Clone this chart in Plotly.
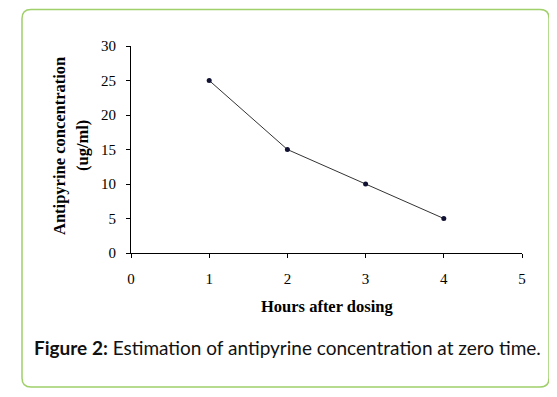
import plotly.graph_objects as go

hours = [1, 2, 3, 4]
concentration = [25, 15, 10, 5]
x_ticks = [0, 1, 2, 3, 4, 5]
y_ticks = [0, 5, 10, 15, 20, 25, 30]

OFF = 8  # default page body margin
W, H = 557, 397
# target pixel positions in window coordinates
AX_L, AX_R, AX_T, AX_B = 131, 522, 46, 253
L, T = AX_L - OFF, AX_T - OFF
R = W - (AX_R - OFF)
B = H - (AX_B - OFF)
pw, ph = AX_R - AX_L, AX_B - AX_T

def px(x):
    return (x - AX_L) / pw

def py(y):
    return (AX_B - y) / ph

fig = go.Figure()
# invisible copy that carries the overlay axes (visible short ticks)
fig.add_trace(go.Scatter(
    x=hours, y=concentration, mode="markers", xaxis="x2", yaxis="y2",
    marker=dict(opacity=0), hoverinfo="skip", showlegend=False,
))
fig.add_trace(go.Scatter(
    x=hours, y=concentration, mode="lines+markers",
    line=dict(color="#333333", width=1),
    marker=dict(color="#111133", size=5, symbol="circle"),
    showlegend=False, cliponaxis=False,
))

# rounded green border
x0, y0, x1, y1, r = 22, 9.5, 549, 387, 9
path = (f"M {px(x0+r)} {py(y0)} L {px(x1-r)} {py(y0)} Q {px(x1)} {py(y0)} {px(x1)} {py(y0+r)} "
        f"L {px(x1)} {py(y1-r)} Q {px(x1)} {py(y1)} {px(x1-r)} {py(y1)} "
        f"L {px(x0+r)} {py(y1)} Q {px(x0)} {py(y1)} {px(x0)} {py(y1-r)} "
        f"L {px(x0)} {py(y0+r)} Q {px(x0)} {py(y0)} {px(x0+r)} {py(y0)} Z")
fig.add_shape(type="path", path=path, xref="paper", yref="paper",
              line=dict(color="#9fd06a", width=1.5), layer="below")

serif = "Liberation Serif, Times New Roman, serif"
common = dict(showgrid=False, zeroline=False, fixedrange=True,
              showline=True, linecolor="black", linewidth=1)
fig.update_layout(
    width=W, height=H,
    margin=dict(l=L, r=R, t=T, b=B, pad=0),
    paper_bgcolor="white", plot_bgcolor="white",
    font=dict(family=serif, color="black", size=15),
    xaxis=dict(range=[0, 5], tickvals=x_ticks, ticks="outside", ticklen=12,
               tickcolor="rgba(0,0,0,0)", tickfont=dict(family=serif, size=15), **common),
    yaxis=dict(range=[0, 30], tickvals=y_ticks, ticks="outside", ticklen=11,
               tickcolor="rgba(0,0,0,0)", tickfont=dict(family=serif, size=15), **common),
    xaxis2=dict(range=[0, 5], tickvals=x_ticks, ticks="outside", ticklen=4,
                tickcolor="black", tickwidth=1, showticklabels=False,
                overlaying="x", side="bottom", anchor="y2", **common),
    yaxis2=dict(range=[0, 30], tickvals=y_ticks, ticks="outside", ticklen=4,
                tickcolor="black", tickwidth=1, showticklabels=False,
                overlaying="y", side="left", anchor="x2", **common),
)

fig.add_annotation(x=px(59), y=py(146), xref="paper", yref="paper",
                   xanchor="center", yanchor="middle",
                   text="<b>Antipyrine concentration</b>", textangle=-90,
                   showarrow=False, font=dict(family=serif, size=16.5))
fig.add_annotation(x=px(82), y=py(146), xref="paper", yref="paper",
                   xanchor="center", yanchor="middle",
                   text="<b>(ug/ml)</b>", textangle=-90,
                   showarrow=False, font=dict(family=serif, size=16.5))
fig.add_annotation(x=px(327), y=py(306), xref="paper", yref="paper",
                   xanchor="center", yanchor="middle",
                   text="<b>Hours after dosing</b>",
                   showarrow=False, font=dict(family=serif, size=16.5))
fig.add_annotation(x=px(32), y=py(347), xref="paper", yref="paper",
                   xanchor="left", yanchor="middle",
                   text="<b>Figure 2:</b> Estimation of antipyrine concentration at zero time.",
                   showarrow=False, font=dict(family="Lato, Open Sans, sans-serif", size=19, color="#111"))

fig.write_html("out.html")
